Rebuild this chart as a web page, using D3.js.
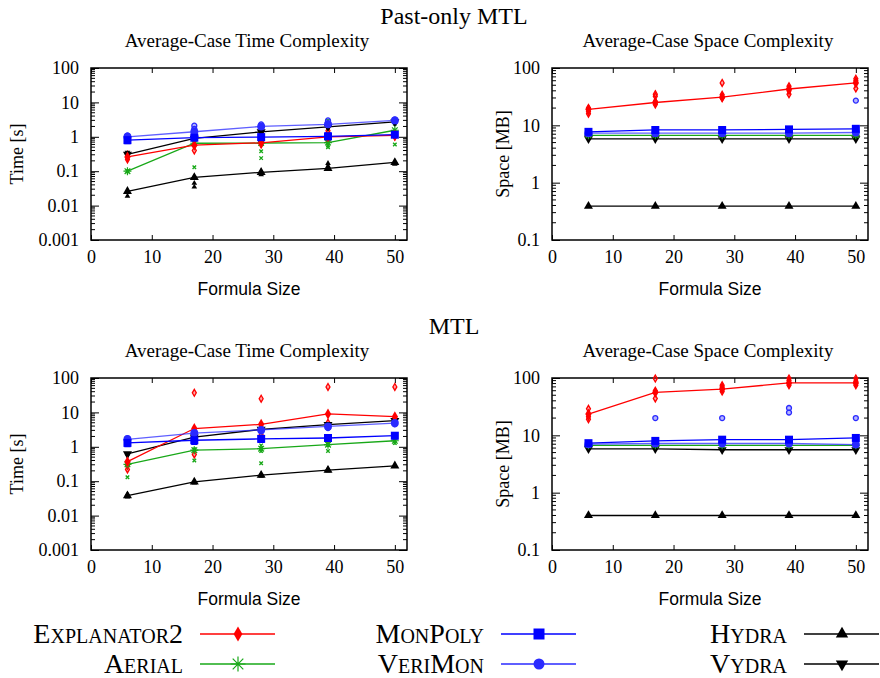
<!DOCTYPE html>
<html>
<head>
<meta charset="utf-8">
<script src="https://cdn.jsdelivr.net/npm/d3@7"></script>
<style>
  body { margin: 0; background: #fff; }
  svg text { font-family: "Liberation Serif", "DejaVu Serif", serif; fill: #000; }
</style>
</head>
<body>
<div id="chart"></div>
<script>
// formula sizes on the x axis
var sizes = [6, 17, 28, 39, 50];
var tools = ["Explanator2", "Aerial", "MonPoly", "VeriMon", "Hydra", "Vydra"];
var colors = ["#ff0000", "#18a818", "#0000ff", "#2a2aff", "#000000", "#000000"];

// mean values per tool (same order as tools), one value per formula size
var pastTimeMean = [
  [0.26, 0.57, 0.67, 1.0, 1.1],
  [0.10, 0.65, 0.66, 0.68, 1.55],
  [0.80, 0.94, 0.98, 1.03, 1.15],
  [1.0, 1.4, 2.0, 2.3, 3.0],
  [0.026, 0.066, 0.093, 0.12, 0.18],
  [0.31, 0.9, 1.4, 1.95, 2.7]
];
var pastSpaceMean = [
  [19, 25, 31, 43, 55],
  [6.7, 6.7, 6.7, 6.7, 6.7],
  [7.7, 8.3, 8.3, 8.5, 8.7],
  [7.3, 7.3, 7.3, 7.3, 7.5],
  [0.39, 0.39, 0.39, 0.39, 0.39],
  [5.8, 5.8, 5.8, 5.8, 5.8]
];
var mtlTimeMean = [
  [0.37, 3.4, 4.5, 9.0, 7.5],
  [0.31, 0.8, 0.88, 1.15, 1.5],
  [1.3, 1.55, 1.7, 1.8, 2.1],
  [1.65, 2.5, 3.1, 3.9, 4.9],
  [0.038, 0.095, 0.15, 0.21, 0.28],
  [0.62, 1.9, 3.2, 4.4, 5.8]
];
var mtlSpaceMean = [
  [23.5, 56, 64, 82, 82],
  [6.7, 6.7, 6.7, 6.7, 6.7],
  [7.3, 8.0, 8.4, 8.4, 9.0],
  [7.0, 7.2, 7.2, 7.2, 6.9],
  [0.4, 0.4, 0.4, 0.4, 0.4],
  [5.8, 5.8, 5.6, 5.6, 5.6]
];

// single runs: [tool index, formula size, value]
var pastTimeRuns = [
  [0,6,0.22],[0,6,0.3],[0,17,0.4],[0,17,0.6],[0,28,0.6],[0,28,1.3],[0,39,0.75],[0,39,1.5],[0,50,1.0],[0,50,1.3],
  [1,6,0.1],[1,17,0.13],[1,17,0.6],[1,28,0.38],[1,28,0.24],[1,28,0.7],[1,39,0.5],[1,39,0.56],[1,39,3.0],[1,50,0.6],[1,50,2.4],
  [2,6,0.75],[2,6,0.9],[2,17,1.0],[2,17,1.2],[2,28,0.85],[2,28,1.0],[2,39,1.1],[2,50,1.2],
  [3,6,1.1],[3,17,1.7],[3,17,2.1],[3,28,2.3],[3,39,2.4],[3,39,3.0],[3,50,2.7],[3,50,3.2],
  [4,6,0.019],[4,6,0.027],[4,17,0.035],[4,17,0.045],[4,17,0.07],[4,28,0.08],[4,28,0.1],[4,39,0.17],[4,39,0.14],[4,50,0.16],[4,50,0.19],
  [5,6,0.35],[5,17,0.9],[5,28,1.3],[5,39,1.9],[5,50,2.5]
];
var pastSpaceRuns = [
  [0,6,16],[0,6,17.5],[0,6,20],[0,17,23],[0,17,26],[0,17,32],[0,17,35],[0,28,30],[0,28,34],[0,28,55],
  [0,39,35],[0,39,40],[0,39,48],[0,50,44],[0,50,60],[0,50,65],
  [3,50,27]
];
var mtlTimeRuns = [
  [0,6,0.22],[0,6,0.28],[0,17,37],[0,17,1.6],[0,17,0.6],[0,28,25],[0,28,2.2],[0,28,3.5],[0,39,55],[0,39,5.0],[0,39,1.5],[0,50,55],[0,50,6],[0,50,5],
  [1,6,0.13],[1,6,0.3],[1,17,0.4],[1,17,0.85],[1,28,0.33],[1,28,0.75],[1,28,1.1],[1,39,0.75],[1,39,1.2],[1,50,1.3],
  [2,6,1.2],[2,17,1.4],[2,28,1.6],[2,39,1.9],[2,50,2.0],
  [3,6,1.8],[3,17,2.2],[3,28,2.8],[3,39,3.5],[3,50,4.5],
  [4,6,0.035],[4,6,0.042],[4,17,0.09],[4,17,0.1],[4,28,0.14],[4,28,0.16],[4,39,0.2],[4,39,0.23],[4,50,0.28],
  [5,6,0.55],[5,17,1.8],[5,28,3],[5,39,4.5],[5,50,6]
];
var mtlSpaceRuns = [
  [0,6,19],[0,6,21],[0,6,29],[0,17,44],[0,17,60],[0,17,98],[0,28,58],[0,28,70],[0,28,75],
  [0,39,75],[0,39,90],[0,39,98],[0,50,75],[0,50,88],[0,50,98],
  [3,17,20],[3,28,20],[3,39,25],[3,39,30],[3,50,20]
];

var timeTicks = [0.001, 0.01, 0.1, 1, 10, 100];
var spaceTicks = [0.1, 1, 10, 100];
var xTicks = [0, 10, 20, 30, 40, 50];

var serif = "'Liberation Serif', 'DejaVu Serif', serif";

var svg = d3.select("#chart").append("svg")
  .attr("width", 880)
  .attr("height", 678);

// section titles
svg.append("text").attr("x", 454).attr("y", 24).attr("text-anchor", "middle")
  .style("font-size", "24px").text("Past-only MTL");
svg.append("text").attr("x", 454).attr("y", 334).attr("text-anchor", "middle")
  .style("font-size", "24px").text("MTL");

// marker shapes
function marker(sel, t, size, open) {
  var c = colors[t];
  if (t == 1) {
    // asterisk for the means, small x for single runs
    var r = size / 2;
    var p = "";
    for (var a = 0; a < 4; a++) {
      var ang = a * Math.PI / 4;
      p += "M" + (-r * Math.cos(ang)) + "," + (-r * Math.sin(ang)) + "L" + (r * Math.cos(ang)) + "," + (r * Math.sin(ang));
    }
    if (open) p = "M" + (-r*0.7) + "," + (-r*0.7) + "L" + (r*0.7) + "," + (r*0.7) + "M" + (r*0.7) + "," + (-r*0.7) + "L" + (-r*0.7) + "," + (r*0.7);
    sel.append("path").attr("d", p).attr("stroke", c).attr("stroke-width", open ? 1.4 : 1.2).attr("fill", "none");
    return;
  }
  var type = [d3.symbolDiamond, null, d3.symbolSquare, d3.symbolCircle, d3.symbolTriangle, d3.symbolTriangle][t];
  var area = size * size * (t == 3 ? 0.78 : t == 0 ? 0.55 : t >= 4 ? 0.55 : 1);
  var path = sel.append("path").attr("d", d3.symbol().type(type).size(area)());
  if (t == 5) path.attr("transform", "rotate(180)");
  if (open && t < 4) {
    path.attr("fill", c).attr("fill-opacity", 0.35).attr("stroke", c).attr("stroke-width", 1.3);
  } else {
    path.attr("fill", c);
  }
}

function drawPanel(opt) {
  var g = svg.append("g").attr("transform", "translate(" + opt.left + "," + opt.top + ")");
  var w = 316, h = 172;
  var x = d3.scaleLinear().domain([0, 52]).range([0, w]);
  var y = d3.scaleLog().domain(opt.domain).range([h, 0]);

  // subtitle
  g.append("text").attr("x", w / 2 - 2).attr("y", -21).attr("text-anchor", "middle")
    .style("font-size", "19px").text(opt.title);

  // minor log ticks on both sides
  var minor = [];
  for (var e = Math.log10(opt.domain[0]); e < Math.log10(opt.domain[1]); e++) {
    for (var m = 2; m <= 9; m++) minor.push(m * Math.pow(10, e));
  }
  g.selectAll(".mn").data(minor).enter().append("path")
    .attr("d", function(d) { return "M0," + y(d) + "h4M" + w + "," + y(d) + "h-4"; })
    .attr("stroke", "#000").attr("stroke-width", 1);

  // y axis (major ticks inward, mirrored)
  g.append("g").call(d3.axisLeft(y).tickValues(opt.ticks).tickSizeInner(-8).tickSizeOuter(0)
      .tickFormat(function(d) { return d3.format("~g")(d); }).tickPadding(12))
    .attr("font-family", serif)
    .call(function(a) { a.select(".domain").remove(); })
    .call(function(a) { a.selectAll("text").style("font-size", "18px").style("font-family", serif); });
  g.append("g").attr("transform", "translate(" + w + ",0)")
    .call(d3.axisRight(y).tickValues(opt.ticks).tickSizeInner(-8).tickSizeOuter(0).tickFormat(""))
    .call(function(a) { a.select(".domain").remove(); });

  // x axis
  g.append("g").attr("transform", "translate(0," + h + ")")
    .call(d3.axisBottom(x).tickValues(xTicks).tickSizeInner(-5).tickSizeOuter(0).tickPadding(10))
    .attr("font-family", serif)
    .call(function(a) { a.select(".domain").remove(); })
    .call(function(a) { a.selectAll("text").style("font-size", "18px").style("font-family", serif); });
  g.append("g")
    .call(d3.axisTop(x).tickValues(xTicks).tickSizeInner(-5).tickSizeOuter(0).tickFormat(""))
    .call(function(a) { a.select(".domain").remove(); });

  // frame
  g.append("rect").attr("width", w).attr("height", h)
    .attr("fill", "none").attr("stroke", "#000").attr("stroke-width", 1.5);

  // axis labels
  g.append("text").attr("x", w / 2).attr("y", h + 55).attr("text-anchor", "middle")
    .style("font-family", "'Liberation Sans', Arial, sans-serif")
    .style("font-size", "17.5px").text("Formula Size");
  g.append("text").attr("transform", "rotate(-90)")
    .attr("x", -h / 2).attr("y", opt.labelX).attr("text-anchor", "middle")
    .style("font-size", "18px").text(opt.ylabel);

  // single runs
  opt.runs.forEach(function(r) {
    var p = g.append("g").attr("transform", "translate(" + x(r[1]) + "," + y(r[2]) + ")");
    marker(p, r[0], 5, true);
  });

  // mean lines, drawn bottom-up so blue and red end on top
  var line = d3.line().x(function(d, i) { return x(sizes[i]); }).y(function(d) { return y(d); });
  [5, 4, 1, 0, 3, 2].forEach(function(t) {
    var vals = opt.mean[t];
    g.append("path").datum(vals).attr("d", line)
      .attr("fill", "none").attr("stroke", colors[t]).attr("stroke-width", 1.3)
      .attr("stroke-opacity", t == 3 ? 0.75 : 1);
    vals.forEach(function(v, i) {
      var p = g.append("g").attr("transform", "translate(" + x(sizes[i]) + "," + y(v) + ")");
      marker(p, t, 8, false);
    });
  });
}

drawPanel({ left: 91, top: 68, domain: [0.001, 100], ticks: timeTicks, title: "Average-Case Time Complexity",
  ylabel: "Time [s]", labelX: -68, mean: pastTimeMean, runs: pastTimeRuns });
drawPanel({ left: 552, top: 68, domain: [0.1, 100], ticks: spaceTicks, title: "Average-Case Space Complexity",
  ylabel: "Space [MB]", labelX: -43, mean: pastSpaceMean, runs: pastSpaceRuns });
drawPanel({ left: 91, top: 378, domain: [0.001, 100], ticks: timeTicks, title: "Average-Case Time Complexity",
  ylabel: "Time [s]", labelX: -68, mean: mtlTimeMean, runs: mtlTimeRuns });
drawPanel({ left: 552, top: 378, domain: [0.1, 100], ticks: spaceTicks, title: "Average-Case Space Complexity",
  ylabel: "Space [MB]", labelX: -43, mean: mtlSpaceMean, runs: mtlSpaceRuns });

// legend, three columns of two rows
var legendCols = [[0, 1], [2, 3], [4, 5]];
var colRight = [183, 484, 787];
legendCols.forEach(function(col, ci) {
  col.forEach(function(t, ri) {
    var yy = 634 + ri * 30;
    svg.append("text").attr("x", colRight[ci]).attr("y", yy + 9).attr("text-anchor", "end")
      .style("font-size", "28px").style("font-variant", "small-caps").text(tools[t]);
    svg.append("line").attr("x1", colRight[ci] + 17).attr("x2", colRight[ci] + 92)
      .attr("y1", yy).attr("y2", yy).attr("stroke", colors[t]).attr("stroke-width", 1.3);
    var p = svg.append("g").attr("transform", "translate(" + (colRight[ci] + 55) + "," + yy + ")");
    marker(p, t, t == 1 ? 15 : 11, false);
  });
});
</script>
</body>
</html>
